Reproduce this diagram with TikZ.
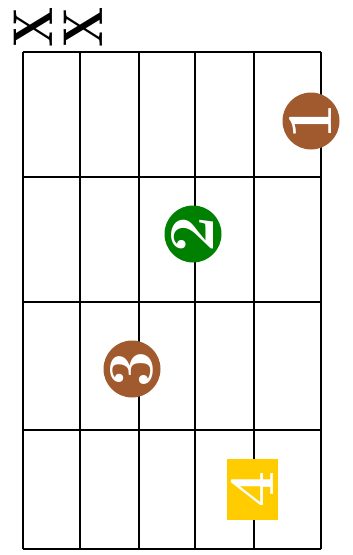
\documentclass[tikz,border=0pt]{standalone}
\usepackage{tikz}
\definecolor{fingerbrown}{RGB}{160,90,45}
\definecolor{fingergreen}{RGB}{0,128,0}
\definecolor{fingergold}{RGB}{255,204,0}
\tikzset{
	fret/.style={line width=1.6pt},
	mute/.style={rotate=90,font=\fontsize{56}{56}\selectfont\bfseries,inner sep=0pt},
	finger/.style={circle,minimum size=57pt,inner sep=0pt,text=white,rotate=90,font=\fontsize{64}{64}\selectfont\bfseries},
	thumbbox/.style={rectangle,minimum width=61pt,minimum height=51pt,inner sep=0pt,text=white,rotate=90,font=\fontsize{64}{64}\selectfont\bfseries}
}
\begin{document}
\begin{tikzpicture}[x=1pt,y=-1pt,line join=round]
				\useasboundingbox (0,0) rectangle (353,555);
				% strings
				\foreach \sx in {80,139,195,254}
					\draw[line width=1.4pt] (\sx,52) -- (\sx,549);
				\draw[line width=2.2pt] (23,52) -- (23,549);
				\draw[line width=1.8pt] (321,52) -- (321,549);
				% frets
				\foreach \fy in {52,177,302,430,549}
					\draw[fret] (23,\fy) -- (321,\fy);
				% muted strings
				\node[mute] (x1) at (33,27) {\scalebox{0.85}[1]{X}};
				\node[mute] (x2) at (83,27) {\scalebox{0.85}[1]{X}};
				% fingers
				\node[finger,fill=fingerbrown] (f1) at (311,121) {1};
				\node[finger,fill=fingergreen] (f2) at (193,234) {2};
				\node[finger,fill=fingerbrown] (f3) at (132,369) {3};
				\node[thumbbox,fill=fingergold] (f4) at (252,489) {4};
\end{tikzpicture}
\end{document}
